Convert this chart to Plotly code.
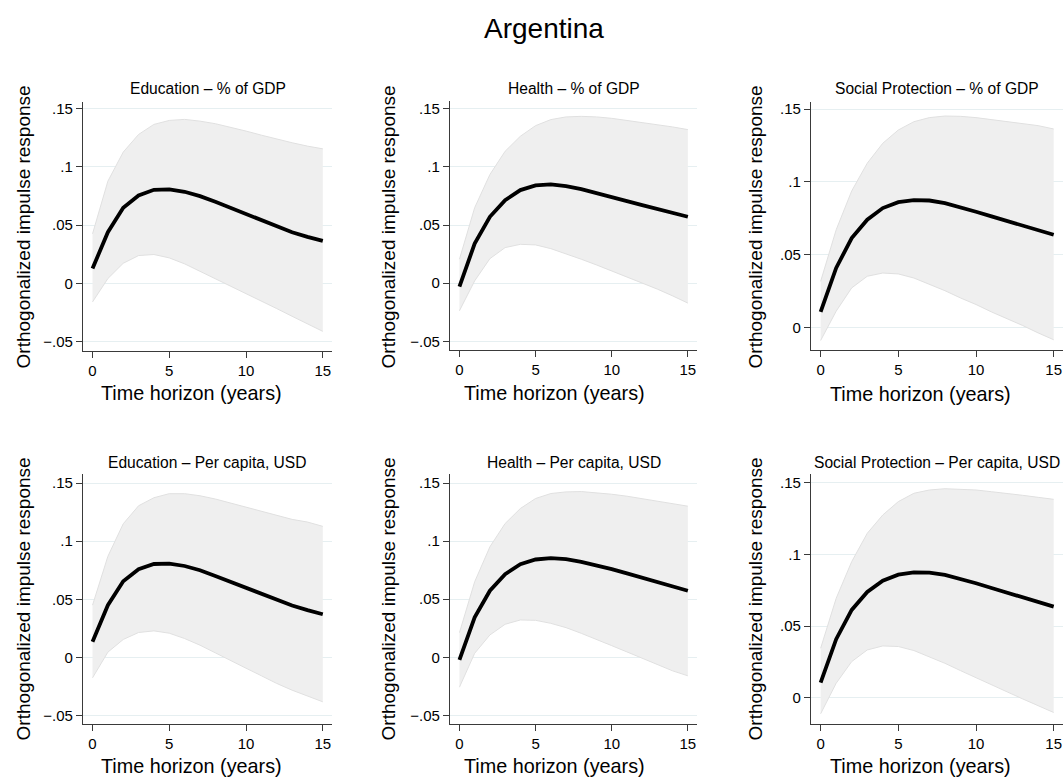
import plotly.graph_objects as go

# ---------------- data ----------------
horizon = [0, 1, 2, 3, 4, 5, 6, 7, 8, 9, 10, 11, 12, 13, 14, 15]

edu_gdp_irf = [0.0129, 0.0440, 0.0649, 0.0754, 0.0803, 0.0806, 0.0786, 0.0749, 0.0700, 0.0649, 0.0591, 0.0540, 0.0489, 0.0440, 0.0400, 0.0366]
edu_gdp_hi = [0.0426, 0.0877, 0.1126, 0.1277, 0.1363, 0.1397, 0.1406, 0.1391, 0.1369, 0.1340, 0.1306, 0.1271, 0.1237, 0.1206, 0.1177, 0.1154]
edu_gdp_lo = [-0.0157, 0.0043, 0.0174, 0.0240, 0.0249, 0.0220, 0.0169, 0.0106, 0.0043, -0.0023, -0.0089, -0.0151, -0.0214, -0.0280, -0.0343, -0.0409]

health_gdp_irf = [-0.0029, 0.0340, 0.0571, 0.0714, 0.0800, 0.0840, 0.0849, 0.0834, 0.0809, 0.0777, 0.0743, 0.0706, 0.0671, 0.0637, 0.0603, 0.0571]
health_gdp_hi = [0.0206, 0.0649, 0.0934, 0.1134, 0.1263, 0.1354, 0.1406, 0.1429, 0.1434, 0.1429, 0.1417, 0.1400, 0.1383, 0.1363, 0.1343, 0.1320]
health_gdp_lo = [-0.0237, 0.0020, 0.0211, 0.0306, 0.0334, 0.0329, 0.0297, 0.0254, 0.0206, 0.0157, 0.0106, 0.0054, 0.0003, -0.0051, -0.0109, -0.0171]

sp_gdp_irf = [0.0107, 0.0409, 0.0614, 0.0740, 0.0820, 0.0861, 0.0874, 0.0872, 0.0854, 0.0826, 0.0795, 0.0763, 0.0731, 0.0699, 0.0667, 0.0637]
sp_gdp_hi = [0.0317, 0.0671, 0.0938, 0.1128, 0.1265, 0.1356, 0.1413, 0.1441, 0.1452, 0.1450, 0.1441, 0.1427, 0.1413, 0.1400, 0.1386, 0.1363]
sp_gdp_lo = [-0.0089, 0.0112, 0.0272, 0.0352, 0.0374, 0.0368, 0.0340, 0.0299, 0.0253, 0.0203, 0.0158, 0.0107, 0.0062, 0.0014, -0.0037, -0.0084]

edu_pc_irf = [0.0135, 0.0450, 0.0656, 0.0759, 0.0804, 0.0807, 0.0787, 0.0750, 0.0701, 0.0650, 0.0595, 0.0544, 0.0492, 0.0447, 0.0407, 0.0372]
edu_pc_hi = [0.0450, 0.0870, 0.1150, 0.1305, 0.1374, 0.1409, 0.1409, 0.1391, 0.1363, 0.1328, 0.1294, 0.1257, 0.1220, 0.1188, 0.1165, 0.1128]
edu_pc_lo = [-0.0175, 0.0046, 0.0155, 0.0215, 0.0229, 0.0209, 0.0163, 0.0106, 0.0040, -0.0023, -0.0092, -0.0157, -0.0223, -0.0281, -0.0332, -0.0381]

health_pc_irf = [-0.0023, 0.0344, 0.0573, 0.0716, 0.0802, 0.0842, 0.0854, 0.0845, 0.0822, 0.0794, 0.0759, 0.0722, 0.0685, 0.0648, 0.0607, 0.0573]
health_pc_hi = [0.0212, 0.0650, 0.0951, 0.1152, 0.1281, 0.1367, 0.1410, 0.1424, 0.1427, 0.1418, 0.1404, 0.1387, 0.1367, 0.1347, 0.1324, 0.1301]
health_pc_lo = [-0.0258, 0.0034, 0.0192, 0.0284, 0.0321, 0.0318, 0.0292, 0.0255, 0.0206, 0.0155, 0.0100, 0.0046, -0.0009, -0.0066, -0.0117, -0.0160]

sp_pc_irf = [0.0107, 0.0409, 0.0613, 0.0738, 0.0817, 0.0859, 0.0875, 0.0873, 0.0857, 0.0831, 0.0799, 0.0766, 0.0734, 0.0701, 0.0669, 0.0636]
sp_pc_hi = [0.0346, 0.0694, 0.0950, 0.1147, 0.1275, 0.1368, 0.1426, 0.1449, 0.1458, 0.1456, 0.1449, 0.1437, 0.1426, 0.1412, 0.1398, 0.1384]
sp_pc_lo = [-0.0111, 0.0102, 0.0253, 0.0334, 0.0362, 0.0358, 0.0330, 0.0288, 0.0241, 0.0190, 0.0139, 0.0091, 0.0042, -0.0007, -0.0056, -0.0102]

panel_titles = [
    "Education – % of GDP", "Health – % of GDP", "Social Protection – % of GDP",
    "Education – Per capita, USD", "Health – Per capita, USD", "Social Protection – Per capita, USD",
]
x_ticks = [0, 5, 10, 15]
y_ticks_wide = [-0.05, 0, 0.05, 0.1, 0.15]
y_labels_wide = ["−.05", "0", ".05", ".1", ".15"]
y_ticks_narrow = [0, 0.05, 0.1, 0.15]
y_labels_narrow = ["0", ".05", ".1", ".15"]

main_title = "Argentina"
x_title = "Time horizon (years)"
y_title = "Orthogonalized impulse response"

series = [
    (edu_gdp_lo, edu_gdp_hi, edu_gdp_irf),
    (health_gdp_lo, health_gdp_hi, health_gdp_irf),
    (sp_gdp_lo, sp_gdp_hi, sp_gdp_irf),
    (edu_pc_lo, edu_pc_hi, edu_pc_irf),
    (health_pc_lo, health_pc_hi, health_pc_irf),
    (sp_pc_lo, sp_pc_hi, sp_pc_irf),
]

# ---------------- layout (pixels) ----------------
W, H = 1064, 778
# plot areas: x0, x1, ytop, ybottom
boxes = [
    (83, 332, 100, 350), (450, 697, 99, 349), (811, 1063, 100, 349),
    (83, 332, 473, 724), (450, 697, 473, 724), (811, 1063, 473, 724),
]
y_ranges = [
    (-0.0578, 0.1557), (-0.0575, 0.1568), (-0.0155, 0.1550),
    (-0.0573, 0.1580), (-0.0576, 0.1580), (-0.0183, 0.1562),
]
narrow = [False, False, True, False, False, True]
title_pos = [(207.5, 87), (573.5, 87), (937, 87), (207.5, 462), (573.5, 462), (937, 462)]
xtitle_pos = [(191, 392), (554, 392), (920, 393), (191, 766), (554, 766), (920, 766)]
ytitle_pos = [(23, 226), (388, 226), (755, 226), (23, 599), (388, 599), (755, 599)]

FONT = "Liberation Sans, Arial, Helvetica, sans-serif"
AXIS_COLOR = "#3a3a3a"
GRID_COLOR = "#e6eff1"
BAND_FILL = "#efefef"
BAND_EDGE = "#e0e0e0"

fig = go.Figure()
layout = dict(
    width=W, height=H, autosize=False,
    margin=dict(l=0, r=0, t=0, b=0, pad=0),
    paper_bgcolor="white", plot_bgcolor="white",
    showlegend=False,
    font=dict(family=FONT, color="black"),
)
annotations = []

for i, (lo, hi, irf) in enumerate(series):
    k = i + 1
    xa = "x" if k == 1 else f"x{k}"
    ya = "y" if k == 1 else f"y{k}"
    fig.add_trace(go.Scatter(x=horizon, y=lo, xaxis=xa, yaxis=ya, mode="lines",
                             line=dict(color=BAND_EDGE, width=1), hoverinfo="skip"))
    fig.add_trace(go.Scatter(x=horizon, y=hi, xaxis=xa, yaxis=ya, mode="lines",
                             line=dict(color=BAND_EDGE, width=1), fill="tonexty",
                             fillcolor=BAND_FILL, hoverinfo="skip"))
    fig.add_trace(go.Scatter(x=horizon, y=irf, xaxis=xa, yaxis=ya, mode="lines",
                             line=dict(color="black", width=3.8)))

    x0, x1, yt, yb = boxes[i]
    xkey = "xaxis" if k == 1 else f"xaxis{k}"
    ykey = "yaxis" if k == 1 else f"yaxis{k}"
    layout[xkey] = dict(
        domain=[x0 / W, x1 / W], anchor=ya, range=[-0.62, 15.6],
        tickmode="array", tickvals=x_ticks, ticktext=[str(v) for v in x_ticks],
        ticks="outside", ticklen=6, tickwidth=1, tickcolor=AXIS_COLOR,
        showline=True, linecolor=AXIS_COLOR, linewidth=1.3,
        showgrid=False, zeroline=False,
        tickfont=dict(size=15, color="black", family=FONT),
    )
    tv = y_ticks_narrow if narrow[i] else y_ticks_wide
    tt = y_labels_narrow if narrow[i] else y_labels_wide
    layout[ykey] = dict(
        domain=[1 - yb / H, 1 - yt / H], anchor=xa, range=list(y_ranges[i]),
        tickmode="array", tickvals=tv, ticktext=tt,
        ticks="outside", ticklen=6, tickwidth=1, tickcolor=AXIS_COLOR,
        showline=True, linecolor=AXIS_COLOR, linewidth=1.3,
        showgrid=True, gridcolor=GRID_COLOR, gridwidth=1, zeroline=False,
        tickfont=dict(size=15, color="black", family=FONT),
    )

    tx, ty = title_pos[i]
    annotations.append(dict(text=panel_titles[i], x=tx / W, y=1 - ty / H, xref="paper", yref="paper",
                            xanchor="center", yanchor="middle", showarrow=False,
                            font=dict(size=15.6, color="black", family=FONT)))
    ax_, ay_ = xtitle_pos[i]
    annotations.append(dict(text=x_title, x=ax_ / W, y=1 - ay_ / H, xref="paper", yref="paper",
                            xanchor="center", yanchor="middle", showarrow=False,
                            font=dict(size=19.8, color="black", family=FONT)))
    bx, by = ytitle_pos[i]
    annotations.append(dict(text=y_title, x=bx / W, y=1 - by / H, xref="paper", yref="paper",
                            xanchor="center", yanchor="middle", showarrow=False, textangle=-90,
                            font=dict(size=19, color="black", family=FONT)))

annotations.append(dict(text=main_title, x=544 / W, y=1 - 27 / H, xref="paper", yref="paper",
                        xanchor="center", yanchor="middle", showarrow=False,
                        font=dict(size=28, color="black", family=FONT)))
layout["annotations"] = annotations
fig.update_layout(**layout)

fig.write_html(
    "out.html",
    config={"displayModeBar": False, "responsive": False},
    post_script="document.body.style.margin='0';document.body.style.padding='0';"
                "document.documentElement.style.overflow='hidden';",
)
